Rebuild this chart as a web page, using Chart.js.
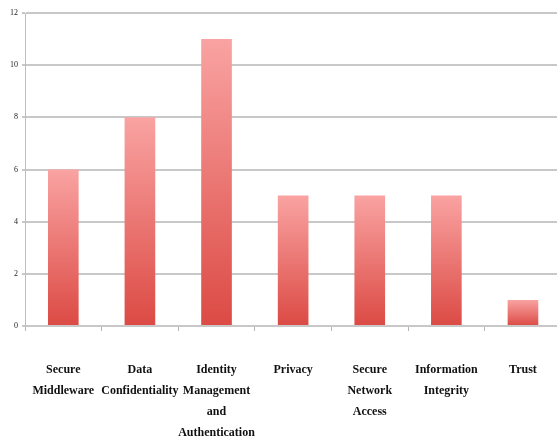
<!DOCTYPE html>
<html>
<head>
<meta charset="utf-8">
<script src="https://cdn.jsdelivr.net/npm/chart.js@4/dist/chart.umd.min.js"></script>
<style>
  html, body { margin: 0; padding: 0; background: #fff; overflow: hidden; }
  #wrap { width: 565px; height: 441px; }
</style>
</head>
<body>
<div id="wrap"><canvas id="c" width="565" height="441"></canvas></div>
<script>
// Number of items per security topic
const categories = [
  ['Secure', 'Middleware'],
  ['Data', 'Confidentiality'],
  ['Identity', 'Management', 'and', 'Authentication'],
  ['Privacy'],
  ['Secure', 'Network', 'Access'],
  ['Information', 'Integrity'],
  ['Trust']
];
const counts = [6, 8, 11, 5, 5, 5, 1];
const yTicks = [0, 2, 4, 6, 8, 10, 12];

// Vertical gradient per bar: light pink at the top, red at the base
function barFill(ctx) {
  const chart = ctx.chart;
  const area = chart.chartArea;
  if (!area || ctx.type !== 'data') return '#e9706b';
  const ys = chart.scales.y;
  const top = ys.getPixelForValue(ctx.raw);
  const base = ys.getPixelForValue(0);
  const g = chart.ctx.createLinearGradient(0, top, 0, base);
  g.addColorStop(0, '#f9a3a2');
  g.addColorStop(1, '#dc4a44');
  return g;
}

new Chart(document.getElementById('c'), {
  type: 'bar',
  data: {
    labels: categories,
    datasets: [{
      data: counts,
      backgroundColor: barFill,
      borderWidth: 0,
      barPercentage: 0.4,
      categoryPercentage: 1.0
    }]
  },
  options: {
    responsive: false,
    animation: false,
    layout: { padding: { top: 13, right: 2, left: 0, bottom: 0 } },
    plugins: { legend: { display: false }, tooltip: { enabled: false } },
    scales: {
      x: {
        grid: {
          display: true,
          drawOnChartArea: false,
          drawTicks: true,
          tickLength: 5,
          color: '#b5b5b5',
          offset: true
        },
        border: { display: true, color: '#c8c8c8', width: 2 },
        ticks: {
          color: '#111',
          padding: 28,
          maxRotation: 0,
          autoSkip: false,
          font: { family: '"Liberation Serif", "Times New Roman", serif', size: 12, weight: 'bold', lineHeight: 1.75 }
        },
        afterFit: (s) => { s.height = 115; }
      },
      y: {
        min: 0,
        max: 12,
        afterBuildTicks: (s) => { s.ticks = yTicks.map(v => ({ value: v })); },
        grid: {
          color: '#c8c8c8',
          lineWidth: 2,
          tickLength: 3,
          drawTicks: true
        },
        border: { display: true, color: '#bdbdbd', width: 1 },
        ticks: {
          color: '#222',
          padding: 4,
          font: { family: '"Liberation Serif", serif', size: 8 }
        },
        afterFit: (s) => { s.width = 25; }
      }
    }
  }
});
</script>
</body>
</html>
